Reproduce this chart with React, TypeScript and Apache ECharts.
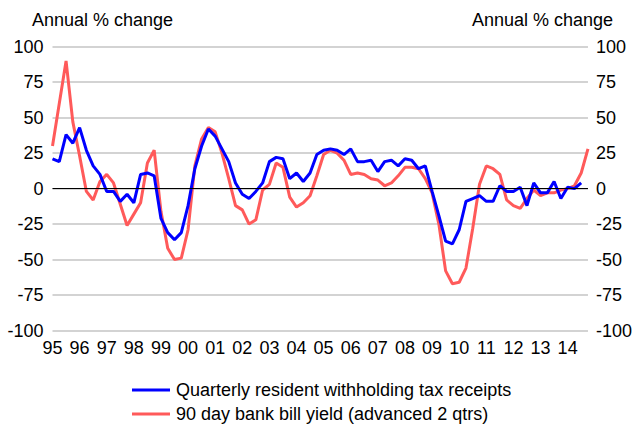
import React, { useEffect, useRef } from "react";
import * as echarts from "echarts";

// Two-digit year labels, one per calendar year (quarterly data)
const years = ["95", "96", "97", "98", "99", "00", "01", "02", "03", "04", "05", "06", "07", "08", "09", "10", "11", "12", "13", "14"];
const quarters = ["Q1", "Q2", "Q3", "Q4"];

// Annual % change, quarterly, from 1995 Q1
const rwtReceipts = [
  21, 19, 38, 32, 43, 27, 16, 10, -2, -2, -9, -4, -10, 10, 11, 9,
  -21, -31, -36, -31, -12, 14, 30, 42, 37, 28, 19, 4, -4, -7, -2, 4,
  19, 22, 21, 7, 11, 5, 11, 24, 27, 28, 27, 24, 28, 19, 19, 20,
  12, 19, 20, 16, 21, 20, 14, 16, -2, -19, -37, -39, -29, -9, -7, -5,
  -9, -9, 2, -2, -2, 1, -12, 4, -3, -3, 5, -7, 1, 0, 4,
];

const bankBillYield = [
  30, 60, 90, 47, 23, -2, -8, 5, 10, 4, -11, -26, -18, -10, 18, 27,
  -16, -42, -50, -49, -29, 16, 35, 43, 40, 25, 7, -12, -15, -25, -22, -1,
  3, 18, 15, -6, -13, -10, -5, 9, 24, 27, 25, 20, 10, 11, 10, 7,
  6, 2, 4, 9, 15, 15, 14, 7, -3, -25, -58, -67, -66, -56, -28, 3,
  16, 14, 10, -8, -12, -14, -7, -1, -5, -3, -3, -1, 0, 2, 11, 28,
];

const yTicks = { min: -100, max: 100, interval: 25 };
const seriesNames = [
  "Quarterly resident withholding tax receipts",
  "90 day bank bill yield (advanced 2 qtrs)",
];
const axisTitle = "Annual % change";

const FONT = "'Liberation Sans', Arial, sans-serif";

export default function App() {
  const ref = useRef<HTMLDivElement>(null);

  useEffect(() => {
    if (!ref.current) return;
    const chart = echarts.init(ref.current, null, { renderer: "svg" });
    const categories: string[] = [];
    years.forEach((y) => quarters.forEach((q) => categories.push(y + q)));

    const labelStyle = { color: "#000", fontSize: 18, fontFamily: FONT };

    chart.setOption({
      animation: false,
      backgroundColor: "#fff",
      textStyle: { fontFamily: FONT },
      grid: { left: 52.5, right: 46, top: 46.7, bottom: 93.5 },
      graphic: [
        { type: "text", left: 32, top: 11, style: { text: axisTitle, fill: "#000", font: `18px ${FONT}` } },
        { type: "text", right: 22, top: 11, style: { text: axisTitle, fill: "#000", font: `18px ${FONT}` } },
      ],
      legend: {
        orient: "vertical",
        left: 127,
        top: 374,
        height: 60,
        itemWidth: 38,
        itemHeight: 3,
        itemGap: 2,
        icon: "rect",
        textStyle: { ...labelStyle, lineHeight: 22, padding: [0, 0, 0, 1] },
        data: seriesNames,
      },
      xAxis: {
        type: "category",
        data: categories,
        boundaryGap: false,
        axisLine: { show: false },
        axisTick: { show: false },
        splitLine: { show: false },
        axisLabel: {
          ...labelStyle,
          interval: 3,
          margin: 8,
          formatter: (v: string) => v.slice(0, 2),
        },
      },
      yAxis: [
        {
          type: "value",
          ...yTicks,
          position: "left",
          axisLine: { show: false },
          axisTick: { show: false },
          axisLabel: { ...labelStyle, margin: 9 },
          splitLine: { lineStyle: { color: "#c4c4c4", width: 1.5 } },
        },
        {
          type: "value",
          ...yTicks,
          position: "right",
          axisLine: { show: false },
          axisTick: { show: false },
          axisLabel: { ...labelStyle, margin: 8 },
          splitLine: { show: false },
        },
      ],
      series: [
        {
          name: seriesNames[0],
          type: "line",
          data: rwtReceipts,
          showSymbol: false,
          symbol: "none",
          z: 3,
          lineStyle: { color: "#0000ff", width: 3 },
          itemStyle: { color: "#0000ff" },
          markLine: {
            silent: true,
            symbol: "none",
            label: { show: false },
            lineStyle: { color: "#000", width: 1, type: "solid" },
            data: [{ yAxis: 0 }],
          },
        },
        {
          name: seriesNames[1],
          type: "line",
          data: bankBillYield,
          showSymbol: false,
          symbol: "none",
          z: 2,
          lineStyle: { color: "#ff5a5a", width: 3 },
          itemStyle: { color: "#ff5a5a" },
        },
      ],
    });

    return () => chart.dispose();
  }, []);

  return <div ref={ref} style={{ width: 635, height: 424, position: "absolute", left: 0, top: 0 }} />;
}
